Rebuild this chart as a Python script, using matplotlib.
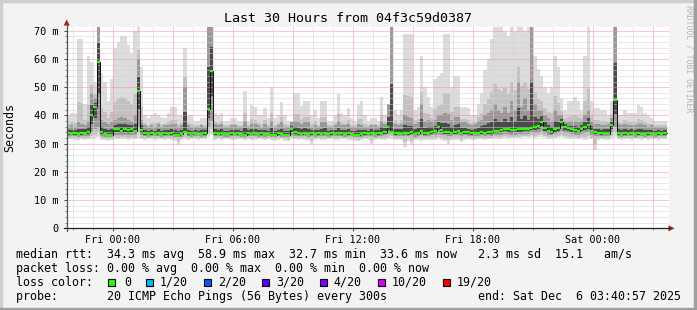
import numpy as np
import matplotlib
matplotlib.use("Agg")
import matplotlib.pyplot as plt
from matplotlib.patches import Rectangle, Polygon
from matplotlib.lines import Line2D

# ---------------- data (10-minute bins, ms) ----------------
median = [
    33.6, 33.5, 33.7, 33.4, 33.6, 33.8, 34.0, 40.0, 43.0, 58.9,
    34.0, 33.4, 33.0, 33.2, 35.3, 35.0, 34.6, 35.3, 34.8, 35.2,
    34.5, 48.6, 34.8, 33.6, 33.4, 33.6, 33.5, 33.8, 33.4, 33.6,
    33.5, 33.7, 33.2, 33.0, 33.4, 34.0, 33.6, 33.3, 33.8, 33.5,
    33.4, 33.6, 42.4, 55.7, 33.6, 33.5, 33.8, 33.4, 33.3, 33.6,
    33.5, 33.8, 33.4, 33.2, 33.6, 33.5, 33.9, 33.4, 33.6, 33.3,
    33.5, 33.2, 33.0, 33.6, 33.4, 33.0, 33.0, 35.0, 34.0, 33.6,
    33.5, 33.8, 33.4, 33.6, 33.3, 33.7, 33.5, 33.9, 33.4, 33.6,
    33.5, 33.8, 33.6, 33.4, 33.7, 33.5, 33.2, 33.0, 33.4, 33.6,
    33.5, 33.8, 33.4, 33.6, 33.9, 34.2, 35.9, 34.0, 33.6, 33.8,
    33.5, 33.9, 33.6, 34.0, 33.4, 33.8, 34.4, 33.6, 33.9, 34.2,
    34.5, 36.0, 34.8, 34.2, 34.0, 33.8, 34.2, 34.6, 33.9, 34.2,
    34.0, 33.7, 33.9, 33.8, 34.1, 33.8, 34.2, 34.0, 34.3, 34.6,
    34.8, 35.2, 35.0, 34.7, 34.8, 35.0, 35.1, 35.3, 35.3, 35.5,
    35.9, 36.2, 37.7, 35.5, 34.5, 34.2, 35.0, 35.5, 37.7, 36.0,
    35.5, 35.0, 34.7, 34.5, 35.3, 36.0, 36.5, 34.5, 34.0, 33.8,
    33.6, 33.8, 33.5, 36.5, 45.3, 33.6, 33.4, 33.7, 33.5, 33.8,
    33.4, 33.6, 33.5, 33.3, 33.6, 33.5, 33.4, 33.7, 33.5, 33.6,
]
rtt_max = [
    40, 41, 41, 67, 67, 44, 61, 59, 52, 75,
    55, 52, 45, 53, 64, 66, 68, 68, 65, 62,
    70, 72, 57, 40, 39, 40, 41, 40, 39.5, 39,
    41, 43, 43, 40, 40, 64, 40, 40, 38, 38,
    39, 39, 75, 75, 40.7, 40, 41, 38, 38, 39,
    39, 38, 38, 48.8, 38, 43.6, 43, 40, 40, 42.5,
    39, 50, 39, 40, 44.7, 40, 38, 38, 48, 48,
    43.5, 45, 45, 40, 42, 39, 45, 45, 38, 38,
    40, 47.7, 41, 40, 42.5, 39, 38, 43.6, 45, 40,
    38, 39, 39, 38, 46.5, 40, 44, 75, 42, 40,
    42, 69, 69, 69, 42, 43, 61, 50, 46.5, 43,
    53, 54, 55, 69, 69, 50, 54, 54, 43, 43,
    42.5, 40, 40, 44, 48, 56, 60, 67, 72, 72,
    72, 70, 68, 72, 70, 72, 72, 70, 72, 75,
    61, 56.6, 54, 50, 48, 50, 61, 57, 46, 42,
    45, 45, 46.5, 45, 42, 61, 72, 45, 42.5, 42.5,
    42, 42, 40, 45, 75, 40, 40, 42, 41, 41,
    41, 43.6, 43, 41, 40, 39, 38, 38, 38, 38,
]
rtt_min = [
    31.5, 31.6, 31.4, 31.2, 31.5, 31.3, 31.6, 31.8, 32.0, 32.5,
    31.4, 31.2, 31.0, 31.3, 31.6, 31.5, 31.8, 31.6, 31.4, 31.5,
    31.6, 32.0, 31.5, 31.4, 31.6, 31.5, 31.3, 31.6, 31.5, 31.4,
    31.6, 31.3, 31.0, 29.4, 31.2, 31.5, 31.4, 31.6, 31.5, 31.3,
    31.5, 31.6, 32.5, 33.0, 31.4, 31.5, 31.3, 31.6, 31.5, 31.2,
    31.4, 31.6, 31.5, 31.3, 31.5, 31.2, 31.4, 31.6, 31.5, 31.3,
    31.5, 31.2, 31.0, 31.4, 31.5, 31.0, 30.8, 31.5, 31.6, 31.4,
    31.5, 31.3, 31.2, 29.8, 31.4, 31.5, 31.2, 31.4, 31.5, 31.6,
    31.4, 31.3, 31.5, 31.6, 31.4, 31.2, 31.0, 30.8, 31.3, 31.5,
    31.4, 30.0, 31.3, 31.5, 31.4, 31.2, 31.5, 31.8, 31.4, 31.3,
    31.2, 28.8, 31.0, 29.5, 31.2, 31.4, 31.0, 31.3, 31.2, 31.4,
    31.3, 31.5, 31.2, 31.0, 30.0, 31.2, 31.4, 31.3, 30.5, 31.4,
    31.5, 31.3, 31.4, 31.6, 31.5, 31.4, 31.6, 31.5, 31.7, 31.8,
    31.8, 32.0, 31.8, 31.9, 32.0, 32.0, 32.1, 32.2, 32.0, 32.5,
    32.0, 32.2, 32.4, 32.0, 31.8, 31.7, 31.9, 32.0, 32.2, 31.9,
    31.8, 31.7, 31.6, 31.5, 31.8, 31.4, 31.6, 31.5, 27.7, 31.4,
    31.5, 31.4, 31.3, 31.6, 32.5, 31.5, 31.4, 31.6, 31.5, 31.4,
    31.6, 31.5, 31.4, 31.5, 31.3, 31.6, 31.5, 31.4, 31.5, 31.6,
]
rtt_q1 = [
    32.6, 32.6, 32.7, 32.5, 32.6, 32.7, 32.8, 34.0, 35.0, 36.0,
    32.8, 32.5, 32.3, 32.4, 33.2, 33.0, 32.9, 33.2, 33.0, 33.2,
    32.9, 36.0, 33.0, 32.6, 32.5, 32.6, 32.6, 32.7, 32.5, 32.6,
    32.6, 32.7, 32.4, 32.2, 32.5, 34.0, 32.6, 32.5, 32.7, 32.6,
    32.5, 32.6, 36.0, 38.0, 32.6, 32.6, 32.7, 32.5, 32.5, 32.6,
    32.6, 32.7, 32.5, 32.4, 32.6, 32.6, 32.8, 32.5, 32.6, 32.5,
    32.6, 32.4, 32.2, 32.6, 32.5, 32.2, 32.2, 33.2, 32.8, 32.6,
    32.6, 32.7, 32.5, 32.6, 32.5, 32.7, 32.6, 32.8, 32.5, 32.6,
    32.6, 32.7, 32.6, 32.5, 32.7, 32.6, 32.4, 32.2, 32.5, 32.6,
    32.6, 32.7, 32.5, 32.6, 32.8, 32.9, 33.5, 34.0, 32.6, 32.7,
    32.6, 32.8, 32.6, 32.9, 32.5, 32.7, 33.0, 32.6, 32.8, 32.9,
    33.0, 33.5, 33.2, 32.9, 32.8, 32.7, 32.9, 33.1, 32.8, 32.9,
    32.8, 32.7, 32.8, 32.7, 32.9, 32.7, 32.9, 32.8, 33.0, 33.1,
    33.2, 33.4, 33.3, 33.1, 33.2, 33.3, 33.4, 33.5, 33.5, 34.0,
    33.8, 33.9, 34.5, 33.6, 33.1, 32.9, 33.3, 33.6, 34.5, 33.8,
    33.6, 33.3, 33.1, 33.0, 33.5, 33.8, 34.0, 33.0, 32.8, 32.7,
    32.6, 32.7, 32.6, 34.0, 36.0, 32.6, 32.5, 32.7, 32.6, 32.7,
    32.5, 32.6, 32.6, 32.5, 32.6, 32.6, 32.5, 32.7, 32.6, 32.6,
]
rtt_q3 = [
    36.0, 36.5, 36.0, 37.5, 37.0, 36.5, 38.0, 48.0, 46.0, 74.0,
    38.5, 37.5, 37.0, 37.5, 38.5, 39.0, 39.5, 39.0, 38.5, 38.0,
    40.0, 60.0, 38.5, 36.5, 36.0, 36.5, 36.0, 37.0, 36.0, 36.5,
    36.5, 37.0, 37.0, 36.0, 36.5, 50.0, 36.5, 36.0, 36.0, 36.0,
    36.5, 36.0, 75.0, 75.0, 37.0, 36.5, 37.0, 36.0, 36.0, 36.5,
    36.5, 36.0, 36.0, 38.0, 36.0, 37.0, 37.0, 36.5, 36.0, 37.0,
    36.0, 38.0, 36.0, 36.5, 37.5, 36.0, 36.0, 37.5, 38.0, 38.0,
    37.0, 37.5, 37.5, 36.0, 36.5, 36.0, 37.5, 37.5, 36.0, 36.0,
    36.5, 38.0, 36.5, 36.5, 37.0, 36.0, 36.0, 37.0, 36.5, 36.0,
    36.0, 36.5, 36.5, 36.0, 38.0, 37.0, 44.0, 72.0, 37.0, 36.5,
    37.0, 40.0, 39.5, 39.0, 37.0, 37.5, 44.0, 38.0, 38.5, 38.0,
    38.5, 40.0, 40.0, 41.0, 40.5, 38.5, 39.5, 39.5, 37.5, 37.5,
    37.0, 36.5, 37.0, 38.0, 38.5, 40.0, 41.0, 42.0, 44.0, 42.0,
    41.0, 43.0, 41.0, 45.0, 42.0, 52.0, 43.0, 46.0, 42.0, 72.0,
    44.0, 42.0, 42.0, 40.0, 39.0, 38.0, 42.0, 40.0, 40.0, 38.0,
    37.5, 38.0, 38.0, 37.5, 38.0, 40.0, 42.0, 38.0, 37.0, 37.0,
    36.5, 36.5, 37.0, 39.0, 75.0, 37.0, 36.5, 37.0, 36.5, 36.5,
    36.5, 37.0, 37.0, 36.5, 36.0, 36.5, 36.0, 36.0, 36.0, 36.0,
]

y_ticks = [0, 10, 20, 30, 40, 50, 60, 70]
y_tick_labels = ["0", "10 m", "20 m", "30 m", "40 m", "50 m", "60 m", "70 m"]
x_tick_labels = ["Fri 00:00", "Fri 06:00", "Fri 12:00", "Fri 18:00", "Sat 00:00"]
first_midnight = 2 + 19 / 60 + 3 / 3600  # hours after start (21:40:57)

title = "Last 30 Hours from 04f3c59d0387"
legend_lines = [
    "median rtt:  34.3 ms avg  58.9 ms max  32.7 ms min  33.6 ms now   2.3 ms sd  15.1   am/s",
    "packet loss: 0.00 % avg  0.00 % max  0.00 % min  0.00 % now",
    "loss color:",
    "probe:       20 ICMP Echo Pings (56 Bytes) every 300s             end: Sat Dec  6 03:40:57 2025",
]
loss_labels = ["0", "1/20", "2/20", "3/20", "4/20", "10/20", "19/20"]
loss_colors = ["#26ff00", "#00b8ff", "#0059ff", "#5e00ff", "#7e00ff", "#dd00ff", "#ff0000"]

# ---------------- figure ----------------
W, H = 697, 310
fig = plt.figure(figsize=(W / 100, H / 100), dpi=100, facecolor="#f3f3f3")
MONO = "DejaVu Sans Mono"

def fx(x):
    return x / W

def fy(y):
    return 1 - y / H

# frame shading
fig.patches.append(Rectangle((0, fy(2)), 1, 2 / H, transform=fig.transFigure, color="#cfcfcf", zorder=0))
fig.patches.append(Rectangle((0, 0), 2 / W, 1, transform=fig.transFigure, color="#cfcfcf", zorder=0))
fig.patches.append(Rectangle((0, 0), 1, 2.5 / H, transform=fig.transFigure, color="#9e9e9e", zorder=0))
fig.patches.append(Rectangle((1 - 3 / W, 0), 3 / W, 1, transform=fig.transFigure, color="#9e9e9e", zorder=0))

x0, x1 = 66.7, 668.7
y0, y1 = 228.3, 27.3
ax = fig.add_axes([fx(x0), fy(y0), (x1 - x0) / W, (y0 - y1) / H])
ax.set_facecolor("white")
for s in ax.spines.values():
    s.set_visible(False)

med = np.array(median)
hi = np.array(rtt_max)
lo = np.array(rtt_min)
q1 = np.array(rtt_q1)
q3 = np.array(rtt_q3)
n = len(med)
t = np.arange(n + 1) / 6.0  # hours since start, 10-min bins

def ext(a):
    return np.append(a, a[-1])

ax.fill_between(t, ext(lo), ext(hi), step="post", color="#dcdcdc", lw=0, zorder=2)
ax.fill_between(t, ext(lo + (q1 - lo) * 0.4), ext(q3 + (hi - q3) * 0.25), step="post", color="#c2c2c2", lw=0, zorder=3)
ax.fill_between(t, ext(q1), ext(q3), step="post", color="#999999", lw=0, zorder=4)
ax.fill_between(t, ext(q1 + (med - q1) * 0.5), ext(med + (q3 - med) * 0.45), step="post", color="#4a4a4a", lw=0, zorder=5)

# grid (on top of smoke, as rrdtool does)
xlim = (0, 30.1)
ylim = (0, (y0 - y1) / ((y0 - 30.7) / 70))
ax.set_xlim(*xlim)
ax.set_ylim(*ylim)
for v in np.arange(2, 71, 2):
    if v % 10:
        ax.axhline(v, color="#d2d2d2", lw=0.72, ls=(0, (1, 1)), zorder=6)
for v in y_ticks[1:]:
    ax.axhline(v, color="#f29494", lw=0.72, ls=(0, (1, 1)), zorder=6)
hours = first_midnight - 2 + np.arange(0, 30)
for h in hours:
    if h <= 0 or h >= xlim[1]:
        continue
    if round(h - first_midnight) % 3 == 0:
        ax.axvline(h, color="#f29494", lw=0.72, ls=(0, (1, 1)), zorder=6)
    else:
        ax.axvline(h, color="#d2d2d2", lw=0.72, ls=(0, (1, 1)), zorder=6)

# median line
ax.step(t, ext(med), where="post", color="#111111", lw=0.7, zorder=7)
ax.hlines(med, t[:-1], t[1:], color="#26ff00", lw=1.6, zorder=8)

# ticks
ax.set_yticks(y_ticks)
ax.set_yticklabels(y_tick_labels, fontfamily=MONO, fontsize=7.4)
ax.set_yticks(np.arange(0, 71, 2), minor=True)
ax.tick_params(axis="y", which="major", length=2.5, width=0.7, color="#444444", pad=3.5)
ax.tick_params(axis="y", which="minor", length=1.5, width=0.7, color="#888888")
xt = [first_midnight + 6 * k for k in range(len(x_tick_labels))]
ax.set_xticks(xt)
ax.set_xticklabels(x_tick_labels, fontfamily=MONO, fontsize=7.3)
ax.set_xticks([h for h in hours if 0 < h < xlim[1]], minor=True)
ax.tick_params(axis="x", which="major", length=2, width=0.7, color="#444444", pad=3)
ax.tick_params(axis="x", which="minor", length=1.5, width=0.7, color="#888888")

# axis lines and arrows
fig.add_artist(Line2D([fx(x0), fx(x0)], [fy(y0 + 3), fy(24)], transform=fig.transFigure, color="#555555", lw=0.9))
fig.add_artist(Line2D([fx(x0 - 3), fx(669)], [fy(y0), fy(y0)], transform=fig.transFigure, color="#222222", lw=0.9))
fig.add_artist(Polygon([[fx(x0 - 3), fy(25.5)], [fx(x0 + 3), fy(25.5)], [fx(x0), fy(19.5)]],
                       closed=True, transform=fig.transFigure, color="#a01c1c", lw=0))
fig.add_artist(Polygon([[fx(668.5), fy(y0 - 3)], [fx(668.5), fy(y0 + 3)], [fx(674.5), fy(y0)]],
                       closed=True, transform=fig.transFigure, color="#a01c1c", lw=0))

# texts
fig.text(fx(348), fy(18), title, ha="center", va="center", fontfamily=MONO, fontsize=9.6, color="black")
fig.text(fx(10), fy(128), "Seconds", rotation=90, ha="center", va="center", fontfamily=MONO, fontsize=8.4)
fig.text(fx(688.5), fy(59), "RRDTOOL / TOBI OETIKER", rotation=270, ha="center", va="center",
         fontfamily=MONO, fontsize=5.9, color="#b4b4b4")

ys = [254.3, 268.2, 282.3, 296.3]
for line, yy in zip(legend_lines, ys):
    fig.text(fx(16), fy(yy), line, ha="left", va="center", fontfamily=MONO, fontsize=8.4, color="black")

box_x = [108.0, 146.0, 203.5, 262.0, 319.5, 378.0, 442.5]
lab_x = [124.0, 160.0, 218.0, 276.7, 333.5, 391.7, 457.0]
for bx, lx, lab, col in zip(box_x, lab_x, loss_labels, loss_colors):
    fig.patches.append(Rectangle((fx(bx), fy(ys[2] + 3.5)), 7 / W, 7 / H, transform=fig.transFigure,
                                 facecolor=col, edgecolor="black", lw=0.8, zorder=3))
    fig.text(fx(lx), fy(ys[2]), lab, ha="left", va="center", fontfamily=MONO, fontsize=8.4, color="black")

fig.savefig("out.png", dpi=100, facecolor=fig.get_facecolor())
